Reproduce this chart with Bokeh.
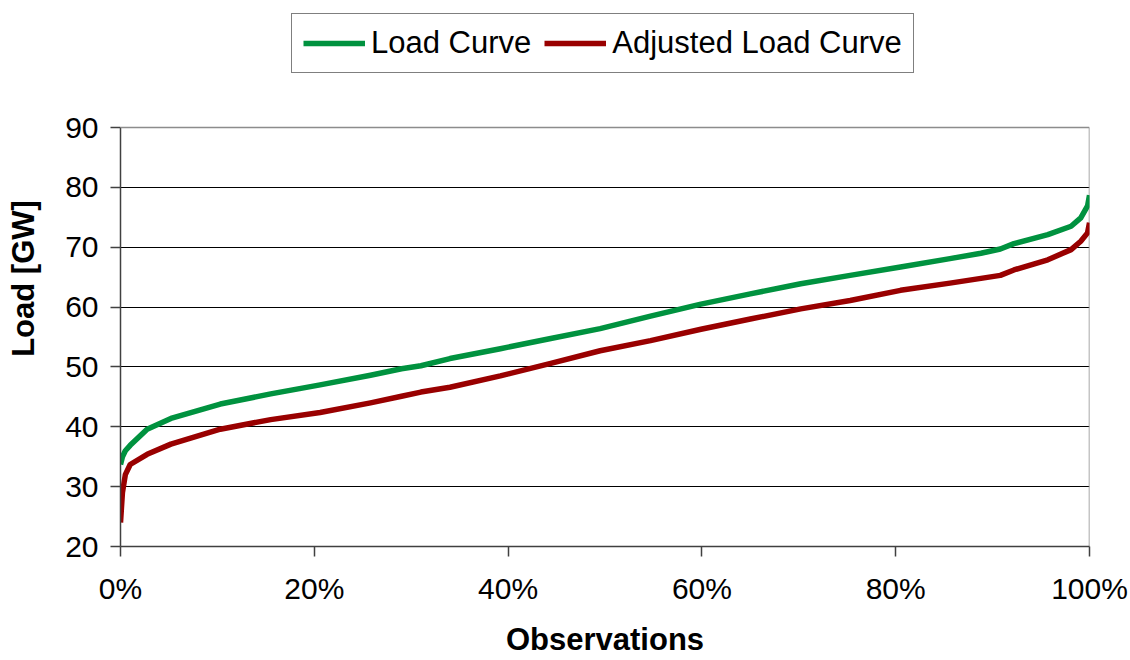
from bokeh.plotting import figure
from bokeh.models import (Range1d, FixedTicker, NumeralTickFormatter, Legend,
                          LegendItem, Span)
from bokeh.embed import file_html
from bokeh.resources import INLINE

# ---- data ----
obs_pct = [0, 0.2, 0.5, 1, 2.75, 5.2, 10.3, 15.5, 20.6, 25.8, 29, 31, 34,
           39.2, 44.4, 49.5, 54.7, 59.9, 65, 70.2, 75.3, 80.5, 85.6, 88.8,
           90.8, 92.2, 95.7, 98.1, 99.1, 99.8, 100]
load_curve = [33.7, 35.0, 36.0, 36.9, 39.6, 41.4, 43.8, 45.5, 47.0, 48.6,
              49.7, 50.2, 51.4, 53.05, 54.75, 56.4, 58.5, 60.5, 62.2, 63.9,
              65.3, 66.7, 68.1, 69.0, 69.7, 70.6, 72.1, 73.5, 74.9, 76.9,
              78.7]
adjusted_load_curve = [24.0, 29.0, 32.0, 33.7, 35.4, 37.1, 39.6, 41.2, 42.4,
                       44.0, 45.1, 45.8, 46.6, 48.5, 50.6, 52.7, 54.4, 56.3,
                       58.0, 59.7, 61.1, 62.8, 64.0, 64.8, 65.3, 66.2, 67.9,
                       69.6, 71.0, 72.4, 74.1]
x_ticks = [0, 0.2, 0.4, 0.6, 0.8, 1.0]
y_ticks = [20, 30, 40, 50, 60, 70, 80, 90]
series_names = ["Load Curve", "Adjusted Load Curve"]
x_title = "Observations"
y_title = "Load [GW]"

obs = [v / 100.0 for v in obs_pct]

FONT = "Liberation Sans"
GREEN = "#00923F"
RED = "#990000"
BORDER = "#8c8c8c"

y_min, y_max = y_ticks[0], y_ticks[-1]
x_min, x_max = x_ticks[0], x_ticks[-1]
# frame extends above the plotted area so the legend can live inside it
y_top = 109.55

p = figure(width=1130, height=660, output_backend="svg", toolbar_location=None,
           x_range=Range1d(x_min, x_max), y_range=Range1d(y_min, y_top),
           min_border_left=120, min_border_right=41, min_border_top=10,
           min_border_bottom=114)
p.background_fill_color = "white"
p.border_fill_color = "white"
p.outline_line_color = None

# plot-area border (top and right), as in the reference
p.add_layout(Span(location=y_max, dimension="width", line_color=BORDER,
                  line_width=1.5))
p.segment(x0=[x_max], y0=[y_min], x1=[x_max], y1=[y_max],
          line_color=BORDER, line_width=1.5)

r1 = p.line(obs, load_curve, line_color=GREEN, line_width=5.5, line_join="round")
r2 = p.line(obs, adjusted_load_curve, line_color=RED, line_width=5.5, line_join="round")

# axes
p.xaxis.ticker = FixedTicker(ticks=x_ticks)
p.xaxis.formatter = NumeralTickFormatter(format="0%")
p.yaxis.ticker = FixedTicker(ticks=y_ticks)
p.yaxis.bounds = (y_min, y_max)
for ax in (p.xaxis, p.yaxis):
    ax.axis_line_color = "#404040"
    ax.axis_line_width = 1.5
    ax.major_tick_line_color = "#404040"
    ax.major_tick_line_width = 1.5
    ax.major_tick_out = 10
    ax.major_tick_in = 0
    ax.minor_tick_line_color = None
    ax.major_label_text_font = FONT
    ax.major_label_text_font_size = "30px"
    ax.major_label_text_color = "black"
    ax.axis_label_text_font = FONT
    ax.axis_label_text_font_style = "bold"
    ax.axis_label_text_color = "black"
p.xaxis.major_label_standoff = 15
p.yaxis.major_label_standoff = 12
p.yaxis.axis_label = y_title
p.yaxis.axis_label_text_font_size = "31px"
p.yaxis.axis_label_standoff = 21
p.xaxis.axis_label = x_title
p.xaxis.axis_label_text_font_size = "31px"
p.xaxis.axis_label_standoff = 14

# grid
p.xgrid.grid_line_color = None
p.ygrid.ticker = FixedTicker(ticks=y_ticks[1:-1])
p.ygrid.grid_line_color = "black"
p.ygrid.grid_line_width = 1

legend = Legend(items=[LegendItem(label=series_names[0], renderers=[r1]),
                       LegendItem(label=series_names[1], renderers=[r2])],
                orientation="horizontal", location=(171, 473),
                label_text_font=FONT, label_text_font_size="31px",
                label_text_color="black",
                glyph_width=62, glyph_height=30, label_standoff=6,
                spacing=13, padding=11, margin=0,
                border_line_color="black", border_line_width=1,
                background_fill_color="white", background_fill_alpha=1.0)
p.add_layout(legend, "center")

open("out.html", "w").write(file_html(p, INLINE))
